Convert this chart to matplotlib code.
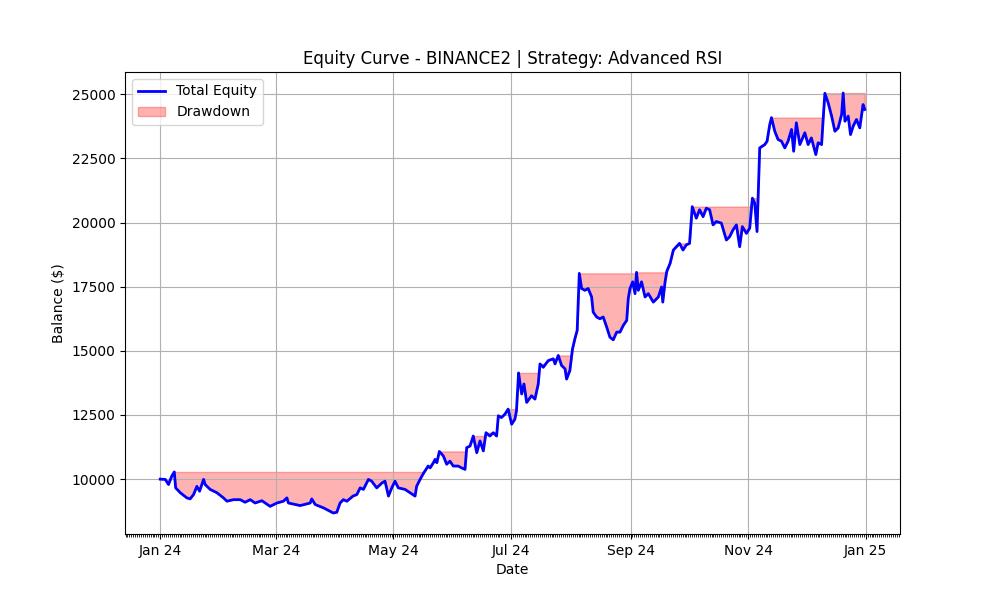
import matplotlib
matplotlib.use("Agg")
import matplotlib.pyplot as plt
import matplotlib.dates as mdates
import numpy as np
import pandas as pd

# dias desde 2024-01-01 y saldo
dias = [
    0, 2.6, 4.3, 6.0, 7.3, 8.0, 10.4, 13.8, 15.5, 17.3, 19.0, 20.4, 22.5, 23.3,
    25.9, 29.4, 32.8, 34.6, 38.0, 41.5, 44.0, 46.7, 49.2, 52.7, 57.0, 60.5,
    63.9, 65.7, 66.5, 72.6, 77.8, 78.6, 80.4, 84.7, 89.8, 91.6, 93.3, 95.0,
    96.8, 100.0, 102.0, 103.7, 105.4, 108.0, 109.7, 112.3, 115.0, 116.6,
    118.4, 120.1, 121.8, 123.5, 127.0, 129.6, 132.2, 133.0, 134.8, 136.5,
    139.0, 140.0, 141.7, 142.6, 143.5, 144.8, 146.9, 148.6, 150.3, 152.0,
    154.6, 156.3, 158.1, 159.0, 160.7, 162.4, 164.2, 165.9, 167.6, 169.0,
    171.0, 172.8, 174.5, 175.4, 177.0, 178.8, 180.5, 182.3, 184.0, 184.8,
    185.9, 186.7, 187.5, 188.7, 190.1, 192.6, 194.4, 196.1, 197.0, 198.7,
    201.3, 203.9, 204.8, 206.5, 208.2, 210.0, 210.8, 212.5, 213.9, 215.1,
    216.3, 216.8, 217.4, 218.6, 220.3, 222.0, 223.8, 224.6, 226.4, 228.1,
    229.8, 231.6, 233.3, 235.0, 236.8, 238.5, 240.2, 242.0, 242.8, 243.7,
    245.1, 246.3, 247.1, 248.0, 249.7, 251.5, 253.2, 255.8, 258.4, 260.1,
    260.7, 261.9, 262.8, 264.5, 266.2, 269.4, 271.2, 272.9, 274.6, 276.0,
    278.1, 279.8, 281.6, 283.3, 285.0, 286.8, 288.5, 291.1, 293.7, 295.4,
    297.1, 298.9, 300.6, 302.0, 304.1, 305.8, 307.2, 308.4, 309.6, 311.0,
    313.6, 314.8, 316.2, 317.1, 318.8, 320.5, 322.3, 324.0, 325.7, 327.5,
    328.6, 330.0, 331.8, 334.4, 336.1, 337.8, 340.1, 341.3, 343.1, 343.9,
    344.8, 346.5, 348.3, 350.0, 351.7, 353.5, 354.3, 355.2, 356.9, 358.1,
    359.5, 361.2, 362.9, 364.6, 365.5,
]
saldo = [
    10000, 9990, 9790, 10120, 10280, 9660, 9470, 9270, 9230, 9400, 9720, 9530,
    9990, 9790, 9600, 9470, 9270, 9140, 9200, 9200, 9100, 9200, 9070, 9160,
    8940, 9070, 9140, 9270, 9070, 8970, 9070, 9230, 9010, 8880, 8680, 8710,
    9070, 9200, 9140, 9340, 9400, 9660, 9600, 9990, 9920, 9660, 9850, 9920,
    9340, 9660, 9920, 9660, 9600, 9470, 9340, 9720, 9990, 10220, 10510,
    10440, 10640, 10770, 10640, 11080, 10900, 10580, 10700, 10510, 10510,
    10440, 10380, 11230, 11290, 11680, 11030, 11490, 11100, 11810, 11680,
    11810, 11680, 12470, 12400, 12530, 12730, 12140, 12340, 12660, 14140,
    13710, 13320, 13710, 12990, 13250, 13120, 13710, 14490, 14360, 14620,
    14690, 14490, 14820, 14430, 14300, 13900, 14230, 15080, 15470, 15800,
    16840, 18020, 17430, 17360, 17430, 17100, 16510, 16320, 16250, 16320,
    15930, 15530, 15430, 15730, 15730, 15990, 16190, 17040, 17430, 17690,
    17230, 18060, 17360, 17690, 17100, 17230, 16900, 17100, 17490, 16900,
    17690, 18100, 18410, 18930, 19190, 18930, 19130, 19190, 20620, 20170,
    20500, 20230, 20560, 20500, 19910, 20040, 19980, 19320, 19450, 19710,
    19910, 19060, 19840, 19580, 19780, 20950, 20760, 19650, 22910, 23040,
    23170, 23820, 24090, 23560, 23240, 23170, 22910, 23170, 23630, 22780,
    23890, 23040, 23500, 23040, 23300, 22650, 23110, 23040, 24020, 25040,
    24670, 24150, 23560, 23690, 24220, 25050, 23950, 24150, 23430, 23760,
    24020, 23690, 24600, 24410,
]

fechas = pd.Timestamp("2024-01-01") + pd.to_timedelta(dias, unit="D")
equity = np.array(saldo, dtype=float)
maximo = np.maximum.accumulate(equity)

fig, ax = plt.subplots(figsize=(10, 6), dpi=100)
ax.plot(fechas, equity, color="blue", linewidth=2, label="Total Equity")
ax.fill_between(fechas, equity, maximo, color="red", alpha=0.3, label="Drawdown")

ax.set_title("Equity Curve - BINANCE2 | Strategy: Advanced RSI")
ax.set_xlabel("Date")
ax.set_ylabel("Balance ($)")
ax.xaxis.set_major_locator(mdates.MonthLocator(interval=2))
ax.xaxis.set_major_formatter(mdates.DateFormatter("%b %y"))
ax.xaxis.set_minor_locator(mdates.DayLocator())
ax.grid(True)
ax.legend(loc="upper left")

plt.savefig("out.png")
